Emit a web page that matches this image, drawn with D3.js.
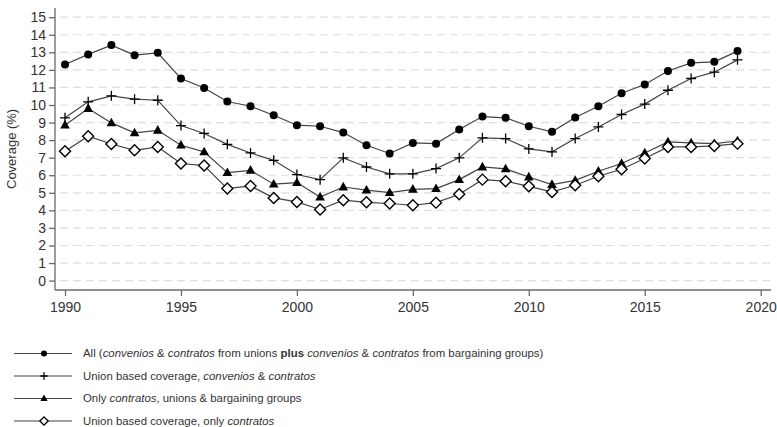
<!DOCTYPE html>
<html><head><meta charset="utf-8">
<script src="https://cdn.jsdelivr.net/npm/d3@7"></script>
<style>body{margin:0;background:#fff}svg{display:block}text{font-family:"Liberation Sans",Arial,sans-serif;fill:#333}</style>
</head><body><svg id="c" width="777" height="427"></svg>
<script>
const years = d3.range(1990, 2020);
const allCov = [12.31,12.88,13.41,12.84,12.97,11.51,10.97,10.2,9.93,9.42,8.85,8.79,8.43,7.71,7.24,7.84,7.8,8.6,9.34,9.27,8.79,8.47,9.29,9.93,10.67,11.17,11.94,12.4,12.46,13.07];
const unionCov = [9.27,10.18,10.52,10.33,10.27,8.83,8.38,7.76,7.27,6.85,6.04,5.75,6.99,6.47,6.08,6.08,6.38,6.99,8.13,8.09,7.5,7.33,8.09,8.75,9.46,10.05,10.84,11.51,11.87,12.57];
const contratosCov = [8.85,9.8,8.98,8.41,8.56,7.71,7.33,6.15,6.28,5.49,5.58,4.76,5.33,5.15,5.01,5.2,5.24,5.75,6.47,6.36,5.9,5.47,5.71,6.23,6.67,7.27,7.9,7.84,7.8,7.95];
const unionContratosCov = [7.37,8.22,7.78,7.42,7.61,6.67,6.55,5.24,5.39,4.71,4.48,4.05,4.58,4.46,4.39,4.29,4.44,4.92,5.75,5.66,5.37,5.05,5.43,5.94,6.34,6.95,7.61,7.61,7.67,7.8];
const yTicks = d3.range(0, 16);
const xTicks = [1990,1995,2000,2005,2010,2015,2020];
const seriesNames = ["all","union","contratos","unionContratos"];
const seriesValues = [allCov, unionCov, contratosCov, unionContratosCov];
const markers = ["circle","plus","triangle","diamond"];

const svg = d3.select("#c");
const x = d3.scaleLinear().domain([1990, 2020]).range([65, 760.7]);
const y = d3.scaleLinear().domain([0, 15]).range([280.6, 17.2]);

// grid
svg.append("g").selectAll("line").data(yTicks).join("line")
  .attr("x1", 60).attr("x2", 771)
  .attr("y1", d => y(d)).attr("y2", d => y(d))
  .attr("stroke", "#dedede").attr("stroke-width", 1.2).attr("stroke-dasharray", "8,5");

// axes
const yAxis = d3.axisLeft(y).tickValues(yTicks).tickSize(6).tickPadding(3).tickFormat(d3.format("d"));
const gy = svg.append("g").attr("transform", "translate(55,0)").call(yAxis);
gy.select(".domain").attr("d", `M0,8V290`);
const xAxis = d3.axisBottom(x).tickValues(xTicks).tickSize(6).tickPadding(6).tickFormat(d3.format("d"));
const gx = svg.append("g").attr("transform", "translate(0,290)").call(xAxis);
gx.select(".domain").attr("d", `M55,0H771`);
[gx, gy].forEach(g => {
  g.selectAll(".domain").attr("stroke", "#6a6a6a").attr("stroke-width", 1.3);
  g.selectAll(".tick line").attr("stroke", "#6a6a6a").attr("stroke-width", 1.3);
  g.selectAll(".tick text").attr("fill", "#333").style("font-size", "14px").style("font-family", '"Liberation Sans",Arial,sans-serif');
});

svg.append("text").attr("transform", `translate(16,${(y(0)+y(15))/2}) rotate(-90)`)
  .attr("text-anchor", "middle").style("font-size", "13px").text("Coverage (%)");

function drawMarker(g, type, cx, cy, s) {
  if (type === "circle") g.append("circle").attr("cx", cx).attr("cy", cy).attr("r", 4*s).attr("fill", "#000");
  else if (type === "plus") g.append("path").attr("d", `M${cx-5*s},${cy}H${cx+5*s}M${cx},${cy-5*s}V${cy+5*s}`).attr("stroke", "#000").attr("stroke-width", 1.3).attr("fill", "none");
  else if (type === "triangle") g.append("path").attr("d", `M${cx},${cy-5.2*s}L${cx+4.8*s},${cy+3.4*s}L${cx-4.8*s},${cy+3.4*s}Z`).attr("fill", "#000");
  else if (type === "diamond") g.append("path").attr("d", `M${cx},${cy-5.5*s}L${cx+5.5*s},${cy}L${cx},${cy+5.5*s}L${cx-5.5*s},${cy}Z`).attr("fill", "#fff").attr("stroke", "#000").attr("stroke-width", 1.4);
}

const line = d3.line().x((d, i) => x(years[i])).y(d => y(d));
seriesValues.forEach((vals, si) => {
  const g = svg.append("g").attr("class", seriesNames[si]);
  g.append("path").datum(vals).attr("d", line).attr("fill", "none").attr("stroke", "#444").attr("stroke-width", 1.2);
  vals.forEach((v, i) => drawMarker(g, markers[si], x(years[i]), y(v), 1));
});

// legend
const legendLabels = [
  [["All (",""],["convenios","i"],[" & ",""],["contratos","i"],[" from unions ",""],["plus","b"],[" ",""],["convenios","i"],[" & ",""],["contratos","i"],[" from bargaining groups)",""]],
  [["Union based coverage, ",""],["convenios","i"],[" & ",""],["contratos","i"]],
  [["Only ",""],["contratos","i"],[", unions & bargaining groups",""]],
  [["Union based coverage, only ",""],["contratos","i"]]
];
const legY = d3.scaleLinear().domain([0, 3]).range([353.5, 421]);
legendLabels.forEach((parts, i) => {
  const g = svg.append("g");
  const ly = legY(i);
  g.append("line").attr("x1", 14).attr("x2", 72).attr("y1", ly).attr("y2", ly).attr("stroke", "#444").attr("stroke-width", 1.2);
  drawMarker(g, markers[i], 44, ly, 0.75);
  const t = g.append("text").attr("x", 83).attr("y", ly).attr("dy", "0.35em").style("font-size", "11.4px");
  parts.forEach(([s, f]) => {
    const ts = t.append("tspan").text(s);
    if (f === "i") ts.style("font-style", "italic");
    if (f === "b") ts.style("font-weight", "bold");
  });
});
</script></body></html>
